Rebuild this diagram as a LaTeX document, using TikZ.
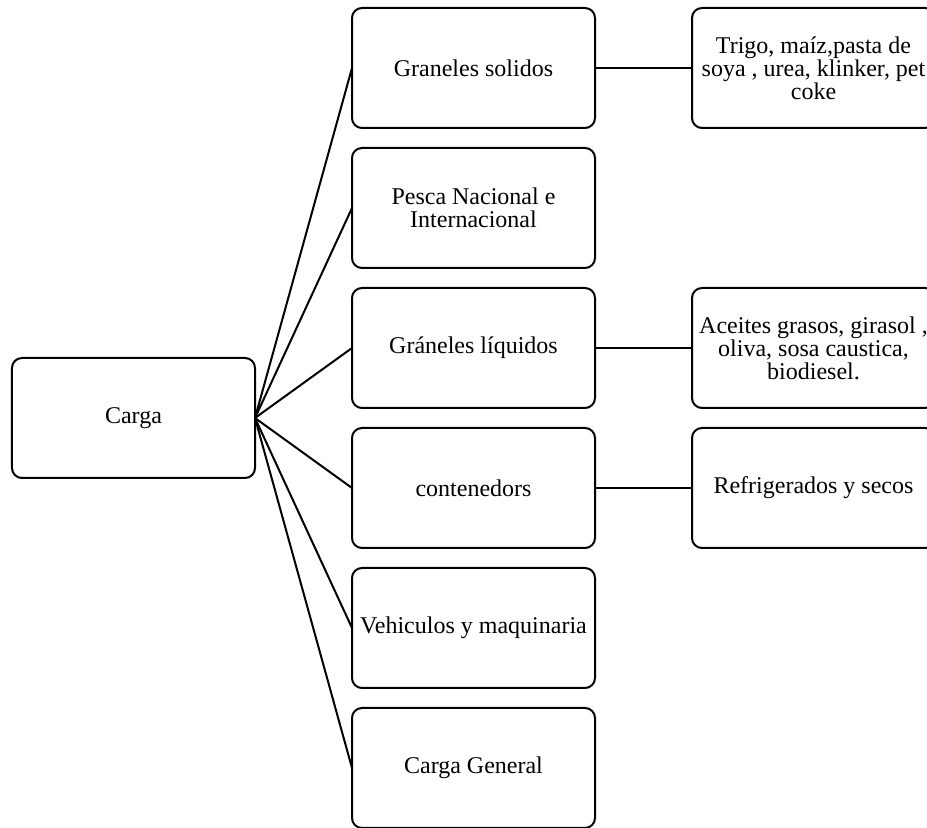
\documentclass[tikz,border=0pt]{standalone}
\usepackage{fontspec}
\setmainfont{Liberation Serif}
\usepackage{tikz}
\usetikzlibrary{positioning}

\begin{document}
\begin{tikzpicture}[
	box/.style={
		draw,
		line width=1pt,
		rounded corners=5pt,
		align=center,
		inner sep=2pt,
		outer sep=0pt,
		font=\fontsize{12}{11.5}\selectfont,
		minimum width=121.5pt,
		minimum height=60pt
	},
	link/.style={line width=1pt}
]
\useasboundingbox (-66.75pt, -205pt) rectangle (396.75pt, 209pt);

\node[box] (carga) at (0, 0) {Carga};

% --- middle column
\node[box, right=48.5pt of carga, yshift=35pt] (liquidos) {Gráneles líquidos};
\node[box, above=10pt of liquidos] (pesca) {Pesca Nacional e\\Internacional};
\node[box, above=10pt of pesca] (solidos) {Graneles solidos};
\node[box, below=10pt of liquidos] (contenedores) {contenedors};
\node[box, below=10pt of contenedores] (vehiculos) {Vehiculos y maquinaria};
\node[box, below=10pt of vehiculos] (general) {Carga General};

% --- right column
\node[box, right=48.5pt of solidos] (solidosDet) {Trigo, maíz,pasta de\\soya , urea, klinker, pet\\coke};
\node[box, right=48.5pt of liquidos] (liquidosDet) {Aceites grasos, girasol ,\\oliva, sosa caustica,\\biodiesel.};
\node[box, right=48.5pt of contenedores] (contenedoresDet) {Refrigerados y secos};

% ---
\foreach \n in {solidos, pesca, liquidos, contenedores, vehiculos, general}
	\draw[link] (carga.east) -- (\n.west);

\draw[link] (solidos.east) -- (solidosDet.west);
\draw[link] (liquidos.east) -- (liquidosDet.west);
\draw[link] (contenedores.east) -- (contenedoresDet.west);

\end{tikzpicture}
\end{document}
